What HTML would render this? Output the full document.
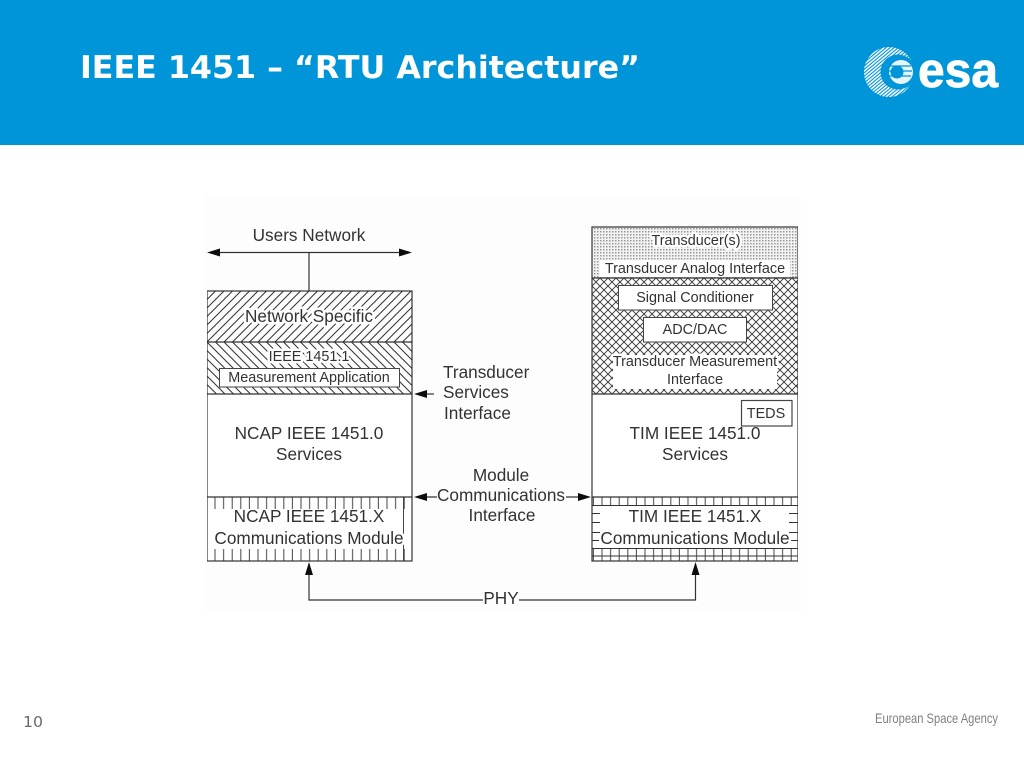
<!DOCTYPE html>
<html><head><meta charset="utf-8"><title>IEEE 1451 RTU Architecture</title>
<style>
html,body{margin:0;padding:0;background:#fff;width:1024px;height:768px;overflow:hidden}
svg{display:block}
.d{font-family:"Liberation Sans",sans-serif;fill:#333;text-anchor:middle;font-size:17.2px}
.s{font-size:14.4px}
.h{paint-order:stroke;stroke:#fff;stroke-width:5px;stroke-linejoin:round}
</style></head><body>
<svg width="1024" height="768" viewBox="0 0 1024 768" xmlns="http://www.w3.org/2000/svg">
<defs>
<filter id="soft" x="0" y="0" width="100%" height="100%"><feGaussianBlur stdDeviation="0.35"/></filter>
<pattern id="fwd" width="8.5" height="8.5" patternUnits="userSpaceOnUse" patternTransform="translate(207 291)">
<path d="M-1 9.500L9.500 -1M-1 1L1 -1M7.500 9.500L9.500 7.500" stroke="#333" stroke-width="1" fill="none"/></pattern>
<pattern id="bwd" width="8.5" height="8.5" patternUnits="userSpaceOnUse" patternTransform="translate(207 342)">
<path d="M-1 -1L9.500 9.500M-1 7.500L1 9.500M7.500 -1L9.500 1" stroke="#333" stroke-width="1" fill="none"/></pattern>
<pattern id="cross" width="8" height="8" patternUnits="userSpaceOnUse" patternTransform="translate(592 278)">
<path d="M-1 -1L9 9M-1 9L9 -1" stroke="#333" stroke-width="0.9" fill="none"/></pattern>
<pattern id="dots" width="3" height="3" patternUnits="userSpaceOnUse">
<rect width="3" height="3" fill="#f2f2f2"/><rect width="1.5" height="1.5" fill="#999"/></pattern>
<pattern id="vert" width="8.6" height="20" patternUnits="userSpaceOnUse" patternTransform="translate(207 497)">
<path d="M8 0V20" stroke="#444" stroke-width="1" fill="none"/></pattern>
<pattern id="stripes" width="2.600" height="2.600" patternUnits="userSpaceOnUse" patternTransform="rotate(-40 889 72)">
<rect width="2.600" height="1.500" fill="#fff"/></pattern>
<mask id="cres"><rect x="850" y="30" width="100" height="90" fill="#000"/><circle cx="889" cy="72" r="25" fill="#fff"/><circle cx="898" cy="72" r="17.500" fill="#000"/></mask>
<mask id="eball"><rect x="850" y="30" width="100" height="90" fill="#000"/><circle cx="901" cy="72" r="12" fill="#fff"/><circle cx="897" cy="72" r="6.500" fill="#000"/></mask>
</defs>

<rect width="1024" height="768" fill="#fff"/>
<rect x="205" y="195" width="596" height="416" fill="#fdfdfd"/>
<rect x="0" y="0" width="1024" height="145" fill="#0095d9"/>
<text x="80" y="78" font-family="'DejaVu Sans',sans-serif" font-weight="700" font-size="31" fill="#fff" textLength="560" lengthAdjust="spacingAndGlyphs">IEEE 1451 – “RTU Architecture”</text>

<!-- logo -->
<rect x="860" y="44" width="60" height="58" fill="url(#stripes)" mask="url(#cres)"/>
<rect x="885" y="58" width="30" height="30" fill="#fff" opacity=".9" mask="url(#eball)"/>
<path d="M888 66H911M888 71H912M888 76H911" stroke="#0095d9" stroke-width="1.300"/>
<text x="918" y="87" font-family="'Liberation Sans',sans-serif" font-weight="700" font-size="49" fill="#fff" stroke="#fff" stroke-width="0.8" textLength="80" lengthAdjust="spacingAndGlyphs">esa</text>

<g filter="url(#soft)">
<!-- left stack -->
<rect x="207" y="291" width="205" height="51" fill="url(#fwd)"/>
<rect x="207" y="342" width="205" height="52" fill="url(#bwd)"/>
<rect x="207" y="394" width="205" height="103" fill="#fff"/>
<rect x="207" y="497" width="205" height="64" fill="#fff"/>
<rect x="207" y="497" width="205" height="12" fill="url(#vert)"/>
<rect x="207" y="549" width="205" height="12" fill="url(#vert)"/>
<path d="M403.500 497V561" stroke="#444" fill="none"/>
<rect x="219.500" y="368.500" width="180" height="18.500" fill="#fff" stroke="#444"/>
<g fill="none" stroke="#333" stroke-width="1.200">
<rect x="207" y="291" width="205" height="270"/>
<path d="M207 342H412M207 394H412M207 497H412"/>
</g>

<!-- right stack -->
<rect x="592" y="227" width="206" height="51" fill="url(#dots)"/>
<rect x="592" y="278" width="206" height="116" fill="url(#cross)"/>
<rect x="592" y="394" width="206" height="103" fill="#fff"/>
<rect x="592" y="497" width="206" height="64" fill="#fff"/>
<rect x="592" y="497" width="206" height="8.500" fill="url(#vert)"/>
<rect x="592" y="549" width="206" height="12" fill="url(#vert)"/>
<g stroke="#333" stroke-width="1" fill="none">
<path d="M592 505.500H798M592 556H798"/>
<path d="M592 513.500H600M592 522.500H600M592 532.500H600M592 540.500H600M592 548.500H798M789 513.500H798M789 522.500H798M789 532.500H798M789 540.500H798"/>
</g>
<rect x="600" y="260" width="190" height="17" fill="#fff"/>
<rect x="618.500" y="285.500" width="154" height="24.500" fill="#fff" stroke="#444"/>
<rect x="643.500" y="317.500" width="103" height="24.500" fill="#fff" stroke="#444"/>
<rect x="613" y="355" width="164" height="17" fill="#fff"/>
<rect x="613" y="370" width="164" height="19" fill="#fff"/>
<g fill="none" stroke="#333" stroke-width="1.200">
<rect x="592" y="227" width="206" height="334"/>
<path d="M592 278H798M592 394H798M592 497H798"/>
</g>
<rect x="741.500" y="400.500" width="50.500" height="25.500" fill="#fff" stroke="#444" stroke-width="1.200"/>

<!-- connectors -->
<g fill="none" stroke="#333" stroke-width="1.200">
<path d="M218 252.500H401M309 252.500V291"/>
<path d="M425 394H434"/>
<path d="M425 497H437M566 497H581"/>
<path d="M309 572V600H483M519 600H695.500V572"/>
</g>
<g fill="#111">
<path d="M207 252.500L220 248.500V256.500Z"/>
<path d="M412 252.500L399 248.500V256.500Z"/>
<path d="M414 394L427 390V398Z"/>
<path d="M414 497L427 493V501Z"/>
<path d="M591 497L578 493V501Z"/>
<path d="M309 562L305 575H313Z"/>
<path d="M695.500 562L691.500 575H699.500Z"/>
</g>

<!-- labels -->
<g class="d">
<text x="309" y="241">Users Network</text>
<text class="h" x="309" y="322">Network Specific</text>
<text class="s h" x="309" y="361">IEEE 1451.1</text>
<text class="s" x="309" y="382">Measurement Application</text>
<text x="309" y="439">NCAP IEEE 1451.0</text>
<text x="309" y="460">Services</text>
<text x="309" y="522">NCAP IEEE 1451.X</text>
<text class="h" x="309" y="544">Communications Module</text>
<text x="443" y="378" style="text-anchor:start">Transducer</text>
<text x="443" y="398" style="text-anchor:start">Services</text>
<text x="444" y="419" style="text-anchor:start">Interface</text>
<text x="501" y="481">Module</text>
<text x="501" y="501">Communications</text>
<text x="502" y="521">Interface</text>
<text x="501" y="604">PHY</text>
<text class="s h" x="696" y="245">Transducer(s)</text>
<text class="s" x="695" y="273">Transducer Analog Interface</text>
<text class="s" x="695" y="302">Signal Conditioner</text>
<text class="s" x="695" y="334">ADC/DAC</text>
<text class="s h" x="695" y="366">Transducer Measurement</text>
<text class="s" x="695" y="384">Interface</text>
<text class="s" x="766" y="418">TEDS</text>
<text x="695" y="439">TIM IEEE 1451.0</text>
<text x="695" y="460">Services</text>
<text x="695" y="522">TIM IEEE 1451.X</text>
<text class="h" x="695" y="544">Communications Module</text>
</g>
</g>

<text x="23" y="727" font-family="'DejaVu Sans',sans-serif" font-size="15" fill="#6a6a6a" textLength="20" lengthAdjust="spacingAndGlyphs">10</text>
<text x="875" y="723" font-family="'Liberation Sans',sans-serif" font-size="14" fill="#808080" textLength="123" lengthAdjust="spacingAndGlyphs">European Space Agency</text>
</svg>
</body></html>
